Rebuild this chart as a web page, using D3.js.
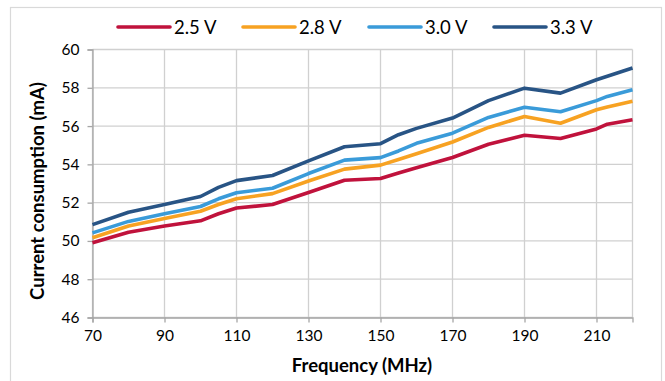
<!DOCTYPE html>
<html>
<head>
<meta charset="utf-8">
<script src="https://cdn.jsdelivr.net/npm/d3@7"></script>
<style>
  body { margin: 0; background: #fff; }
  text { font-family: Lato, "Open Sans", sans-serif; fill: #000; }
</style>
</head>
<body>
<div id="chart"></div>
<script>
// frequencies (MHz)
var freqs = [70, 80, 90, 100, 105, 110, 120, 130, 140, 150, 155, 160, 170, 180, 190, 200, 210, 213, 220];

// current consumption (mA) per supply voltage
var v25 = [49.9, 50.45, 50.78, 51.05, 51.42, 51.72, 51.9, 52.53, 53.17, 53.26, 53.55, 53.82, 54.36, 55.05, 55.52, 55.35, 55.85, 56.1, 56.33];
var v28 = [50.17, 50.78, 51.17, 51.55, 51.9, 52.2, 52.47, 53.13, 53.75, 53.96, 54.25, 54.55, 55.17, 55.93, 56.5, 56.15, 56.85, 57.0, 57.3];
var v30 = [50.42, 51.02, 51.42, 51.8, 52.2, 52.52, 52.75, 53.52, 54.22, 54.35, 54.7, 55.1, 55.63, 56.45, 56.98, 56.75, 57.33, 57.55, 57.9];
var v33 = [50.85, 51.5, 51.9, 52.32, 52.8, 53.15, 53.42, 54.18, 54.92, 55.08, 55.55, 55.88, 56.42, 57.33, 57.98, 57.72, 58.42, 58.6, 59.03];

var seriesNames = ["2.5 V", "2.8 V", "3.0 V", "3.3 V"];
var seriesValues = [v25, v28, v30, v33];
var colors = ["#c0123c", "#f7a222", "#3a9bd9", "#285485"];

var xTicks = [70, 90, 110, 130, 150, 170, 190, 210];
var yTicks = [46, 48, 50, 52, 54, 56, 58, 60];

var W = 665, H = 381;
var margin = { top: 49.5, right: 32.5, bottom: 63.5, left: 92.5 };
var width = W - margin.left - margin.right,
    height = H - margin.top - margin.bottom;

var svg = d3.select("#chart").append("svg")
    .attr("width", W)
    .attr("height", H);

// outer chart border
svg.append("rect")
    .attr("x", 10.5).attr("y", 7.5)
    .attr("width", 651).attr("height", 380)
    .attr("fill", "none")
    .attr("stroke", "#d9d9d9")
    .attr("stroke-width", 1.2);

var g = svg.append("g")
    .attr("transform", "translate(" + margin.left + "," + margin.top + ")");

// Scales
var x = d3.scaleLinear().domain([70, 220]).range([0, width]);
var y = d3.scaleLinear().domain([46, 60]).range([height, 0]);

// gridlines
g.append("g").selectAll("line.hgrid")
    .data(yTicks)
    .enter().append("line")
    .attr("class", "hgrid")
    .attr("x1", 0).attr("x2", width)
    .attr("y1", function(d) { return y(d); })
    .attr("y2", function(d) { return y(d); })
    .attr("stroke", "#d0d0d0")
    .attr("stroke-width", 1.3);

g.append("g").selectAll("line.vgrid")
    .data(xTicks.concat([220]))
    .enter().append("line")
    .attr("class", "vgrid")
    .attr("x1", function(d) { return x(d); })
    .attr("x2", function(d) { return x(d); })
    .attr("y1", 0).attr("y2", height)
    .attr("stroke", "#d0d0d0")
    .attr("stroke-width", 1.3);

// Axes
var xAxis = d3.axisBottom(x).tickValues(xTicks).tickSize(5).tickPadding(7);
var yAxis = d3.axisLeft(y).tickValues(yTicks).tickSize(5).tickPadding(8);

var xg = g.append("g")
    .attr("transform", "translate(0," + height + ")")
    .call(xAxis);
var yg = g.append("g").call(yAxis);

[xg, yg].forEach(function(ag) {
    ag.select(".domain").attr("stroke", "#a6a6a6").attr("stroke-width", 1.3);
    ag.selectAll(".tick line").attr("stroke", "#a6a6a6").attr("stroke-width", 1.3);
    ag.selectAll(".tick text")
        .attr("font-size", 15.5)
        .attr("font-family", "Lato, 'Open Sans', sans-serif")
        .attr("fill", "#000");
});

// lines
var line = d3.line()
    .x(function(d, i) { return x(freqs[i]); })
    .y(function(d) { return y(d); });

seriesValues.forEach(function(vals, k) {
    g.append("path")
        .datum(vals)
        .attr("fill", "none")
        .attr("stroke", colors[k])
        .attr("stroke-width", 3.6)
        .attr("stroke-linejoin", "round")
        .attr("d", line);
});

// axis titles
svg.append("text")
    .attr("x", 362)
    .attr("y", 372)
    .attr("text-anchor", "middle")
    .attr("font-size", 18.5)
    .attr("font-weight", "bold")
    .text("Frequency (MHz)");

svg.append("text")
    .attr("transform", "translate(44,191) rotate(-90)")
    .attr("text-anchor", "middle")
    .attr("font-size", 18.5)
    .attr("font-weight", "bold")
    .text("Current consumption (mA)");

// legend
var legendX = [118, 243, 369, 494];
var leg = svg.append("g").selectAll("g")
    .data(seriesNames)
    .enter().append("g")
    .attr("transform", function(d, i) { return "translate(" + legendX[i] + ",27)"; });

leg.append("line")
    .attr("x1", 0).attr("x2", 52)
    .attr("y1", 0).attr("y2", 0)
    .attr("stroke", function(d, i) { return colors[i]; })
    .attr("stroke-width", 3.6)
    .attr("stroke-linecap", "round");

leg.append("text")
    .attr("x", 56)
    .attr("y", 7)
    .attr("font-size", 18.5)
    .text(function(d) { return d; });
</script>
</body>
</html>
